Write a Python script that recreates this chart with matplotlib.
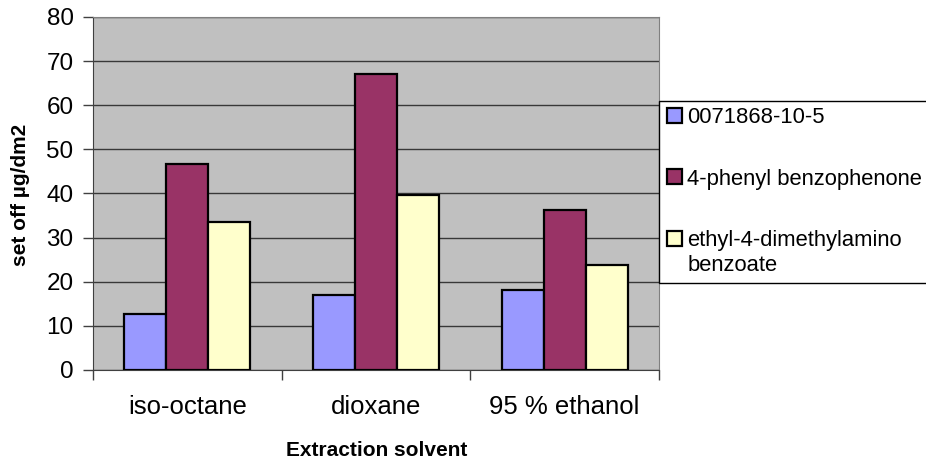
import numpy as np
import matplotlib
matplotlib.use("Agg")
import matplotlib.pyplot as plt
from matplotlib.patches import Rectangle

plt.rcParams['font.family'] = ['Liberation Sans', 'DejaVu Sans']

solvents = ['iso-octane', 'dioxane', '95 % ethanol']
series_names = ['0071868-10-5', '4-phenyl benzophenone',
                'ethyl-4-dimethylamino', 'benzoate']
cas_0071868 = [12.6, 17.0, 18.1]
phenyl_benzophenone = [46.7, 67.0, 36.2]
ethyl_dmab = [33.5, 39.7, 23.9]
colors = ['#9999FF', '#993366', '#FFFFCC']

W, H = 926, 459
fig = plt.figure(figsize=(W / 100, H / 100), dpi=100)
ax = fig.add_axes([93 / W, 1 - 370 / H, (659 - 93) / W, (370 - 17) / H])
ax.set_facecolor('#C0C0C0')

# excel-style clustered bars, gap width 150%
x = np.arange(len(solvents))
w = 1 / 4.5
bars = []
for i, (vals, c) in enumerate(zip([cas_0071868, phenyl_benzophenone, ethyl_dmab], colors)):
    b = ax.bar(x + (i - 1) * w, vals, width=w, color=c, edgecolor='black',
               linewidth=1.6, zorder=3)
    bars.append(b)

ax.set_xlim(-0.5, 2.5)
ax.set_ylim(0, 80)
ax.set_yticks(range(0, 81, 10))
ax.yaxis.grid(True, color='#383838', linewidth=1.0, zorder=1)
ax.set_axisbelow(True)

ax.set_xticks(x)
ax.set_xticklabels(solvents, fontsize=18.5)
ax.tick_params(axis='x', which='major', length=0, pad=18)
ax.set_xticks([-0.5, 0.5, 1.5, 2.5], minor=True)
ax.tick_params(axis='x', which='minor', length=7, color='#404040', width=1)
ax.tick_params(axis='y', labelsize=17.5, length=7, color='#404040', width=1, pad=7)

for side in ['top', 'right']:
    ax.spines[side].set_color('#808080')
for side in ['left', 'bottom']:
    ax.spines[side].set_color('#404040')

fig.text(21 / W, 1 - 195 / H, 'set off µg/dm2', rotation=90, fontsize=15,
         fontweight='bold', ha='center', va='center')
fig.text(377 / W, 1 - 456 / H, 'Extraction solvent', fontsize=15,
         fontweight='bold', ha='center', va='baseline')

# legend box runs off the right edge
fig.patches.append(Rectangle((659 / W, 1 - 283 / H), 0.5, (283 - 101) / H,
                             transform=fig.transFigure, facecolor='white',
                             edgecolor='black', linewidth=1, zorder=0))
leg = fig.legend(bars, series_names[:3], loc='upper left',
                 bbox_to_anchor=(667 / W, 1 - 107 / H),
                 frameon=False, fontsize=15.8, handlelength=0.68, handleheight=0.68,
                 handletextpad=0.24, labelspacing=1.85, borderpad=0, borderaxespad=0)
for h in leg.legend_handles:
    h.set_linewidth(1.6)

# second line of the last legend label, under the first
fig.canvas.draw()
bb = leg.get_texts()[2].get_window_extent()
fig.text(bb.x0 / W, (bb.y0 - 25) / H, series_names[3],
         fontsize=15.8, ha='left', va='bottom')

fig.savefig('out.png', dpi=100)
